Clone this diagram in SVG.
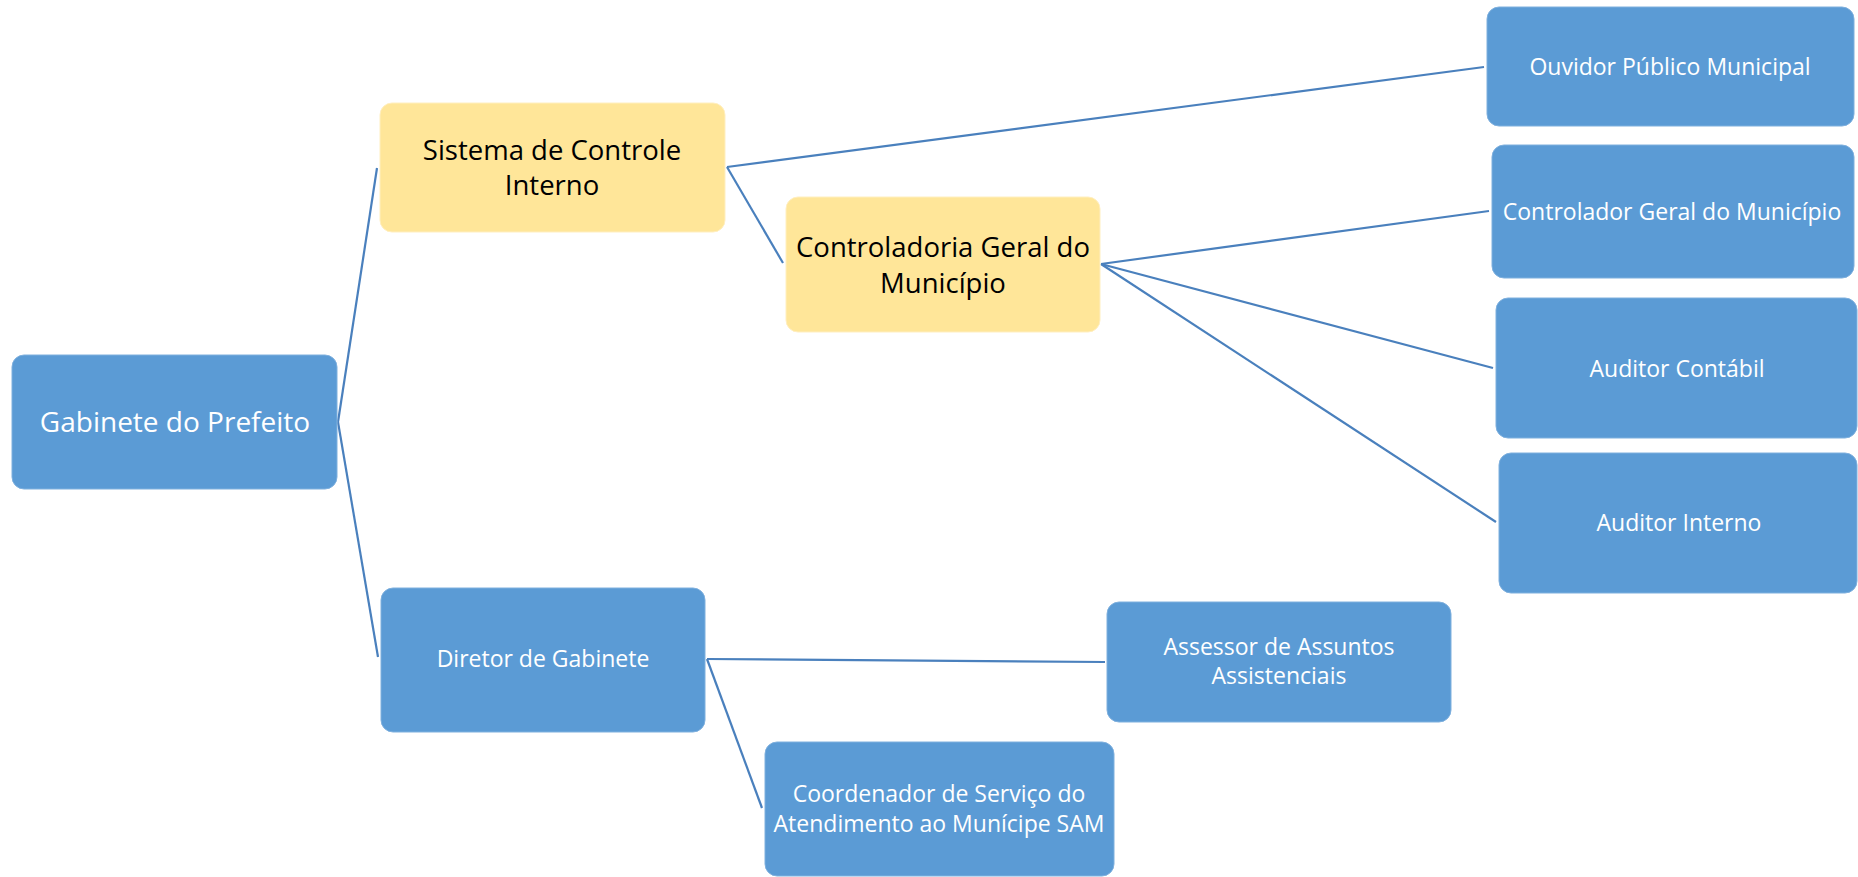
<svg xmlns="http://www.w3.org/2000/svg" width="1858" height="877" viewBox="0 0 1858 877">
<style>
.blue{fill:#5B9BD5;stroke:#7FB0DE;stroke-width:1}
.yellow{fill:#FFE699;stroke:#FFEFC0;stroke-width:1}
.tw{font-family:"Open Sans","Noto Sans",sans-serif;fill:#FFFFFF;text-anchor:middle}
.tb{font-family:"Open Sans","Noto Sans",sans-serif;fill:#000000;text-anchor:middle}
.s23{font-size:23px}
.s27{font-size:27.5px}
.s28{font-size:28px}
.conn line{stroke:#4A80BD;stroke-width:2.2;fill:none}
</style>
<rect width="1858" height="877" fill="#FFFFFF"/>
<g id="connectors" class="conn">
<line x1="338" y1="422" x2="377" y2="168"/>
<line x1="338" y1="422" x2="378" y2="657"/>
<line x1="727" y1="167" x2="1484" y2="67"/>
<line x1="727" y1="167" x2="783" y2="263"/>
<line x1="1101" y1="264" x2="1489" y2="211"/>
<line x1="1101" y1="264" x2="1493" y2="368"/>
<line x1="1101" y1="264" x2="1496" y2="522"/>
<line x1="707" y1="659" x2="1105" y2="662"/>
<line x1="707" y1="659" x2="762" y2="808"/>
</g>
<g id="gabinete">
<rect class="blue" x="12" y="355" width="325" height="134" rx="12"/>
<text class="tw s28" x="175" y="432">Gabinete do Prefeito</text>
</g>
<g id="sistema">
<rect class="yellow" x="380" y="103" width="345" height="129" rx="12"/>
<text class="tb s27" x="552" y="160">Sistema de Controle</text>
<text class="tb s27" x="552" y="195">Interno</text>
</g>
<g id="controladoria">
<rect class="yellow" x="786" y="197" width="314" height="135" rx="12"/>
<text class="tb s27" x="943" y="257">Controladoria Geral do</text>
<text class="tb s27" x="943" y="293">Município</text>
</g>
<g id="ouvidor">
<rect class="blue" x="1487" y="7" width="367" height="119" rx="12"/>
<text class="tw s23" x="1670" y="75">Ouvidor Público Municipal</text>
</g>
<g id="controlador">
<rect class="blue" x="1492" y="145" width="362" height="133" rx="12"/>
<text class="tw s23" x="1672" y="220">Controlador Geral do Município</text>
</g>
<g id="auditor-contabil">
<rect class="blue" x="1496" y="298" width="361" height="140" rx="12"/>
<text class="tw s23" x="1677" y="377">Auditor Contábil</text>
</g>
<g id="auditor-interno">
<rect class="blue" x="1499" y="453" width="358" height="140" rx="12"/>
<text class="tw s23" x="1679" y="531">Auditor Interno</text>
</g>
<g id="diretor">
<rect class="blue" x="381" y="588" width="324" height="144" rx="12"/>
<text class="tw s23" x="543" y="667">Diretor de Gabinete</text>
</g>
<g id="assessor">
<rect class="blue" x="1107" y="602" width="344" height="120" rx="12"/>
<text class="tw s23" x="1279" y="655">Assessor de Assuntos</text>
<text class="tw s23" x="1279" y="684">Assistenciais</text>
</g>
<g id="coordenador">
<rect class="blue" x="765" y="742" width="349" height="134" rx="12"/>
<text class="tw s23" x="939" y="802">Coordenador de Serviço do</text>
<text class="tw s23" x="939" y="832">Atendimento ao Munícipe SAM</text>
</g>
</svg>
